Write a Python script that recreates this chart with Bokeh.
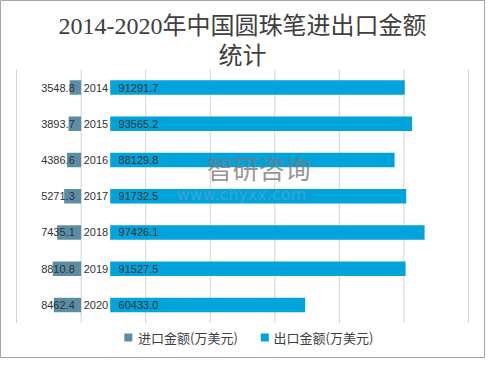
from bokeh.plotting import figure
from bokeh.models import ColumnDataSource, Range1d, LabelSet, Label
from bokeh.embed import file_html
from bokeh.resources import INLINE
from bokeh.core.properties import value

# ---- data ----
years = ["2014", "2015", "2016", "2017", "2018", "2019", "2020"]
imports = [3548.8, 3893.7, 4386.6, 5271.3, 7435.1, 8810.8, 8462.4]      # 进口金额(万美元)
exports = [91291.7, 93565.2, 88129.8, 91732.5, 97426.1, 91527.5, 60433.0]  # 出口金额(万美元)
grid_ticks = [-20000, 0, 20000, 40000, 60000, 80000, 100000, 120000]
series_names = ["进口金额(万美元)", "出口金额(万美元)"]
title_lines = ["2014-2020年中国圆珠笔进出口金额", "统计"]

IMP_COLOR = "#5b8da5"
EXP_COLOR = "#00a3da"
TXT = "#404040"
CJK = "Noto Sans CJK SC"
NUM = "Liberation Sans"
TITLE_FONT = "Liberation Serif, Noto Sans CJK SC"

GAP = 9000            # blank space that holds the year label
n = len(years)
ypos = [n - 1 - i for i in range(n)]   # 2014 at the top

src = ColumnDataSource(dict(
    y=ypos,
    year=years,
    imp_left=[-v for v in imports],
    zero=[0] * n,
    exp_left=[GAP] * n,
    exp_right=[GAP + v for v in exports],
    imp_lbl=[f"{v:.1f}" for v in imports],
    exp_lbl=[f"{v:.1f}" for v in exports],
    imp_x=[-12400] * n,
    year_x=[800] * n,
    exp_x=[11600] * n,
))

# the frame fills the whole figure; titles/legend are drawn inside it
p = figure(width=485, height=358,
           x_range=Range1d(-24990, 125300), y_range=Range1d(-1.477, 8.401),
           output_backend="svg", toolbar_location=None,
           min_border=0, min_border_left=0, min_border_right=0,
           min_border_top=0, min_border_bottom=0)
p.xaxis.visible = False
p.yaxis.visible = False
p.xgrid.visible = False
p.ygrid.visible = False
p.outline_line_color = "#a6a6a6"
p.outline_line_width = 1

# vertical gridlines over the bar area
p.segment(x0=grid_ticks, x1=grid_ticks, y0=[-0.5] * len(grid_ticks),
          y1=[n - 0.5] * len(grid_ticks), line_color="#d6d2d6", line_width=1)

r_imp = p.hbar(y="y", left="imp_left", right="zero", height=0.4, source=src,
               fill_color=IMP_COLOR, line_color=None)
r_exp = p.hbar(y="y", left="exp_left", right="exp_right", height=0.4, source=src,
               fill_color=EXP_COLOR, line_color=None)

common = dict(source=src, y="y", text_align="left", text_baseline="middle",
              text_font=value(NUM), text_font_size="11px", text_color="#333333")
p.add_layout(LabelSet(x="imp_x", text="imp_lbl", **common))
p.add_layout(LabelSet(x="year_x", text="year", **common))
p.add_layout(LabelSet(x="exp_x", text="exp_lbl", **common))

# watermark
p.add_layout(Label(x=38900, y=3.78, text="智研咨询", text_font=CJK,
                   text_font_size="26px", text_color="#7a7a7a", text_alpha=0.8,
                   text_baseline="middle", text_align="left"))
p.add_layout(Label(x=29550, y=3.04, text="www.chyxx.com", text_font="DejaVu Sans",
                   text_font_size="16px", text_color="#4fa6d6", text_alpha=0.75,
                   text_baseline="middle", text_align="left"))

# title (two lines)
p.add_layout(Label(x=50000, y=7.689, text=title_lines[0], text_font=TITLE_FONT,
                   text_font_size="24px", text_color=TXT,
                   text_align="center", text_baseline="middle"))
p.add_layout(Label(x=50000, y=6.883, text=title_lines[1], text_font=TITLE_FONT,
                   text_font_size="24px", text_color=TXT,
                   text_align="center", text_baseline="middle"))

# legend drawn by hand
leg_y = -0.896
p.scatter(x=[14613, 56913], y=[leg_y, leg_y], marker="square", size=8,
          fill_color=[IMP_COLOR, EXP_COLOR], line_color=None)
p.text(x=[17619, 59608], y=[leg_y, leg_y], text=series_names,
       text_font=value(CJK), text_font_size="13px", text_color=TXT,
       text_align="left", text_baseline="middle")

open("out.html", "w").write(file_html(p, INLINE))
